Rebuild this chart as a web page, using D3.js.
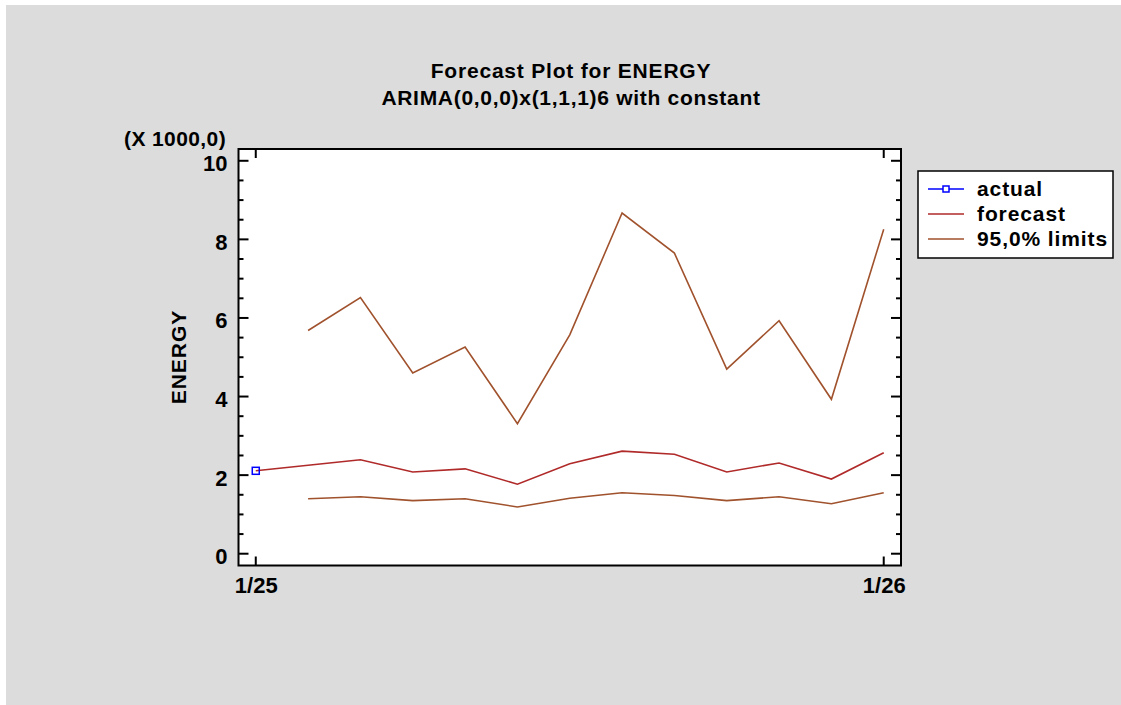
<!DOCTYPE html>
<html>
<head>
<meta charset="utf-8">
<script src="https://cdn.jsdelivr.net/npm/d3@7"></script>
<style>
  body { margin: 0; background: #fff; }
  text { font-family: "Liberation Sans", Arial, Helvetica, sans-serif; font-weight: bold; fill: #000; }
</style>
</head>
<body>
<script>
// monthly periods, index 0 = 1/25 ... 12 = 1/26
var periods = ["1/25", "2/25", "3/25", "4/25", "5/25", "6/25", "7/25", "8/25", "9/25", "10/25", "11/25", "12/25", "1/26"];
var xTickLabels = ["1/25", "1/26"];
var yTicks = [0, 2, 4, 6, 8, 10];

// values in thousands (X 1000,0)
var actual = [2.11];
var forecast = [2.11, 2.25, 2.39, 2.08, 2.16, 1.77, 2.29, 2.61, 2.53, 2.08, 2.31, 1.90, 2.57];
var upper = [null, 5.68, 6.52, 4.60, 5.26, 3.31, 5.57, 8.67, 7.65, 4.70, 5.93, 3.93, 8.26];
var lower = [null, 1.40, 1.45, 1.35, 1.40, 1.19, 1.41, 1.55, 1.48, 1.35, 1.45, 1.27, 1.55];

var width = 1121, height = 705;
var svg = d3.select("body").append("svg")
    .attr("width", width)
    .attr("height", height);

// grey panel
svg.append("rect").attr("x", 6).attr("y", 5).attr("width", width - 6).attr("height", height - 5)
    .attr("fill", "#dcdcdc");

var pL = 238.5, pR = 901, pT = 149, pB = 565.5;

var x = d3.scaleLinear().domain([-0.33, 12.33]).range([pL, pR]);
var y = d3.scaleLinear().domain([-0.3, 10.3]).range([pB, pT]);

svg.append("rect").attr("x", pL).attr("y", pT)
    .attr("width", pR - pL).attr("height", pB - pT)
    .attr("fill", "#fff");

// titles
svg.append("text").attr("x", 571).attr("y", 78).attr("text-anchor", "middle")
    .style("font-size", "21px").style("letter-spacing", "0.8px").text("Forecast Plot for ENERGY");
svg.append("text").attr("x", 571).attr("y", 105).attr("text-anchor", "middle")
    .style("font-size", "21px").style("letter-spacing", "0.7px").text("ARIMA(0,0,0)x(1,1,1)6 with constant");

svg.append("text").attr("x", 124).attr("y", 146)
    .style("font-size", "21px").style("letter-spacing", "0.4px").text("(X 1000,0)");

svg.append("text")
    .attr("transform", "translate(186,357) rotate(-90)")
    .attr("text-anchor", "middle")
    .style("font-size", "21px").style("letter-spacing", "1px").text("ENERGY");

// axes, ticks drawn inward separately
var minor = d3.range(0, 10.01, 0.5);
var axisL = d3.axisLeft(y).tickValues(yTicks).tickSize(0).tickPadding(11).tickFormat(d3.format("d"));
var gl = svg.append("g").attr("transform", "translate(" + pL + ",0)").call(axisL);
gl.select(".domain").remove();
gl.selectAll("text").style("font-size", "22px").style("font-family", null).attr("dy", "0.45em");

var axisB = d3.axisBottom(x).tickValues([0, 12]).tickSize(0).tickPadding(12)
    .tickFormat(function (d) { return d === 0 ? xTickLabels[0] : xTickLabels[1]; });
var gb = svg.append("g").attr("transform", "translate(0," + pB + ")").call(axisB);
gb.select(".domain").remove();
gb.selectAll("text").style("font-size", "22px").style("font-family", null);

var ticks = svg.append("g").attr("stroke", "#000").attr("stroke-width", 2);
minor.forEach(function (v) {
    var len = (v % 2 === 0) ? 10 : 5;
    ticks.append("line").attr("x1", pL).attr("x2", pL + len).attr("y1", y(v)).attr("y2", y(v));
    ticks.append("line").attr("x1", pR).attr("x2", pR - len).attr("y1", y(v)).attr("y2", y(v));
});
[0, 12].forEach(function (i) {
    ticks.append("line").attr("x1", x(i)).attr("x2", x(i)).attr("y1", pB).attr("y2", pB - 9);
    ticks.append("line").attr("x1", x(i)).attr("x2", x(i)).attr("y1", pT).attr("y2", pT + 9);
});

var line = d3.line()
    .defined(function (d) { return d != null; })
    .x(function (d, i) { return x(i); })
    .y(function (d) { return y(d); });

svg.append("path").datum(upper).attr("d", line)
    .attr("fill", "none").attr("stroke", "#a0522d").attr("stroke-width", 1.6);
svg.append("path").datum(lower).attr("d", line)
    .attr("fill", "none").attr("stroke", "#a0522d").attr("stroke-width", 1.6);
svg.append("path").datum(forecast).attr("d", line)
    .attr("fill", "none").attr("stroke", "#b02a2a").attr("stroke-width", 1.6);

svg.selectAll(".actual").data(actual).enter().append("rect")
    .attr("class", "actual")
    .attr("x", function (d, i) { return x(i) - 3.5; })
    .attr("y", function (d) { return y(d) - 3.5; })
    .attr("width", 7).attr("height", 7)
    .attr("fill", "none").attr("stroke", "#0000ff").attr("stroke-width", 1.5);

// frame
svg.append("rect").attr("x", pL).attr("y", pT)
    .attr("width", pR - pL).attr("height", pB - pT)
    .attr("fill", "none").attr("stroke", "#000").attr("stroke-width", 2);

// legend
var legendItems = [
    { label: "actual", color: "#0000ff", marker: true },
    { label: "forecast", color: "#b02a2a", marker: false },
    { label: "95,0% limits", color: "#a0522d", marker: false }
];
var lg = svg.append("g");
lg.append("rect").attr("x", 918).attr("y", 171).attr("width", 195).attr("height", 87)
    .attr("fill", "#fff").attr("stroke", "#000").attr("stroke-width", 1.5);
legendItems.forEach(function (d, i) {
    var ly = 189 + i * 25;
    lg.append("line").attr("x1", 928).attr("x2", 964).attr("y1", ly).attr("y2", ly)
        .attr("stroke", d.color).attr("stroke-width", 1.5);
    if (d.marker) {
        lg.append("rect").attr("x", 943).attr("y", ly - 3).attr("width", 6).attr("height", 6)
            .attr("fill", "#fff").attr("stroke", d.color).attr("stroke-width", 1.5);
    }
    lg.append("text").attr("x", 977).attr("y", ly + 7).style("font-size", "21px")
        .style("letter-spacing", "0.9px").text(d.label);
});
</script>
</body>
</html>
